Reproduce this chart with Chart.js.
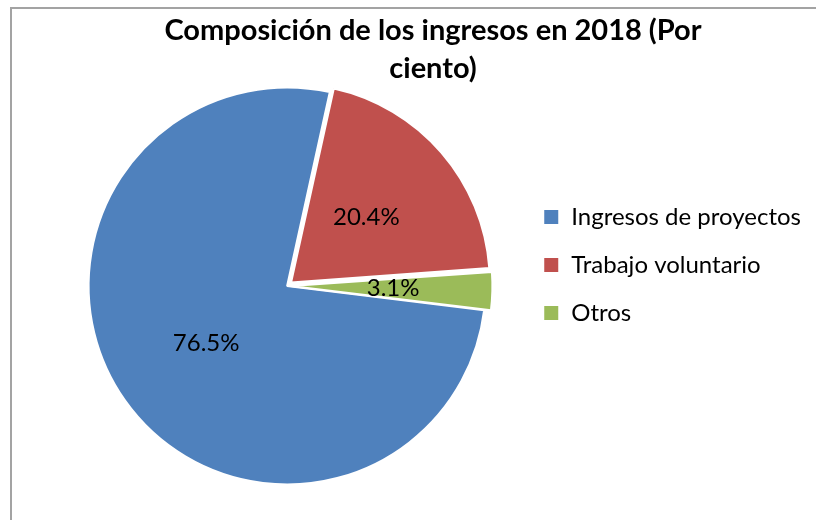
<!DOCTYPE html>
<html>
<head>
<meta charset="utf-8">
<script src="https://cdn.jsdelivr.net/npm/chart.js@4"></script>
<style>
  html, body { margin: 0; padding: 0; background: #fff; overflow: hidden; }
  #wrap { position: relative; width: 816px; height: 520px; }
  #frame { position: absolute; left: 10px; top: 7px; width: 900px; height: 600px;
           border-left: 2px solid #a3a3a3; border-top: 2px solid #a3a3a3; pointer-events: none; }
  canvas { position: absolute; left: 0; top: 0; }
</style>
</head>
<body>
<div id="wrap">
  <canvas id="pieChart" width="816" height="520"></canvas>
  <div id="frame"></div>
</div>
<script>
const categories = ['Ingresos de proyectos', 'Trabajo voluntario', 'Otros'];
const shares = [76.5, 20.4, 3.1];
const sliceColors = ['#4F81BD', '#C0504D', '#9BBB59'];
const sliceOffsets = [0, 21, 15];
const titleLines = ['Composición de los ingresos en 2018 (Por', 'ciento)'];

Chart.defaults.font.family = 'Lato';
Chart.defaults.color = '#000';

// percentage labels in the middle of each slice (follows the slice offset)
const sliceLabels = {
  id: 'sliceLabels',
  afterDatasetsDraw(chart) {
    const ctx = chart.ctx;
    const meta = chart.getDatasetMeta(0);
    ctx.save();
    ctx.font = '24px Lato';
    ctx.fillStyle = '#000';
    ctx.textAlign = 'center';
    ctx.textBaseline = 'middle';
    meta.data.forEach((arc, i) => {
      const p = arc.getProps(['x', 'y', 'startAngle', 'endAngle', 'outerRadius', 'circumference'], true);
      const fix = 1 - Math.sin(Math.min(Math.PI, p.circumference));
      const shift = sliceOffsets[i] / 4 * (1 + fix);
      const mid = (p.startAngle + p.endAngle) / 2;
      const d = p.outerRadius / 2 + shift;
      ctx.fillText(shares[i].toFixed(1) + '%', p.x + Math.cos(mid) * d, p.y + Math.sin(mid) * d);
    });
    ctx.restore();
  }
};

const ctx = document.getElementById('pieChart').getContext('2d');
new Chart(ctx, {
  type: 'pie',
  data: {
    labels: categories,
    datasets: [{
      data: shares,
      backgroundColor: sliceColors,
      borderColor: '#fff',
      borderWidth: 2,
      offset: sliceOffsets,
      hoverOffset: 0
    }]
  },
  options: {
    responsive: false,
    animation: false,
    devicePixelRatio: 1,
    rotation: 97,
    layout: { padding: { left: 55, right: 5, top: 34, bottom: 24 } },
    plugins: {
      title: {
        display: true,
        text: titleLines,
        color: '#000',
        font: { size: 29, weight: 'bold', lineHeight: 1.31 },
        padding: { top: -22, bottom: -12 }
      },
      legend: {
        position: 'right',
        labels: {
          boxWidth: 16,
          boxHeight: 16,
          padding: 24,
          color: '#000',
          font: { size: 24 }
        }
      },
      tooltip: { enabled: false }
    }
  },
  plugins: [sliceLabels]
});
</script>
</body>
</html>
